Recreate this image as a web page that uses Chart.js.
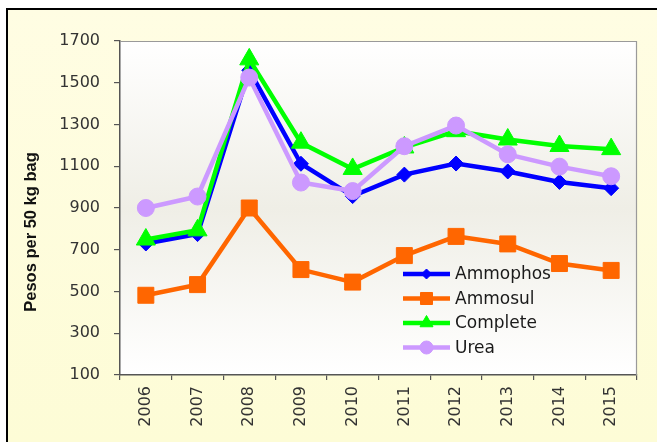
<!DOCTYPE html>
<html>
<head>
<meta charset="utf-8">
<script src="https://cdn.jsdelivr.net/npm/chart.js@4.4.1/dist/chart.umd.min.js"></script>
<style>
  html, body { margin: 0; padding: 0; background: #ffffff; }
  #wrap { width: 657px; height: 442px; position: relative; }
</style>
</head>
<body>
<div id="wrap"><canvas id="c"></canvas></div>
<script>
// ---- Data ----
const years = ['2006','2007','2008','2009','2010','2011','2012','2013','2014','2015'];
const ammophos = [730, 775, 1560, 1112, 957, 1060, 1113, 1075, 1025, 995];
const ammosul  = [482, 533, 900, 605, 545, 672, 764, 728, 634, 601];
const complete = [749, 793, 1612, 1213, 1087, 1190, 1268, 1228, 1197, 1182];
const urea     = [900, 955, 1525, 1022, 981, 1196, 1295, 1157, 1098, 1052];
const seriesNames = ['Ammophos', 'Ammosul', 'Complete', 'Urea'];
const yTitle = 'Pesos per 50 kg bag';
const yMin = 100, yMax = 1700, yStep = 200;

const styles = [
  { color: '#0000ff', point: 'rectRot',  radius: 7.5, lr: 5 },
  { color: '#ff6600', point: 'rect',     radius: 11.3, lr: 8.5 },
  { color: '#00ff00', point: 'triangle', radius: 11, lr: 7.5 },
  { color: '#cc99ff', point: 'circle',   radius: 8.5, lr: 6.5 }
];
const values = [ammophos, ammosul, complete, urea];
const orders = [4, 3, 2, 1];

const datasets = values.map((v, i) => ({
  label: seriesNames[i],
  data: v,
  borderColor: styles[i].color,
  backgroundColor: styles[i].color,
  borderWidth: 4.5,
  pointStyle: styles[i].point,
  pointRadius: styles[i].radius,
  pointHoverRadius: styles[i].radius,
  pointBorderWidth: 1,
  pointBackgroundColor: styles[i].color,
  pointBorderColor: styles[i].color,
  tension: 0,
  order: orders[i]
}));

const decor = {
  id: 'decor',
  beforeDraw(chart) {
    const ctx = chart.ctx;
    const W = chart.width, H = chart.height;
    ctx.save();
    ctx.fillStyle = '#ffffff';
    ctx.fillRect(0, 0, W, H);
    // outer light yellow panel
    const g = ctx.createLinearGradient(0, 9, 0, H);
    g.addColorStop(0, '#fffde3');
    g.addColorStop(1, '#fdfcd6');
    ctx.fillStyle = g;
    ctx.fillRect(8, 10, W - 8, H - 10);
    // frame
    ctx.strokeStyle = '#000000';
    ctx.lineWidth = 2;
    ctx.beginPath();
    ctx.moveTo(W + 2, 9);
    ctx.lineTo(7, 9);
    ctx.lineTo(7, H + 2);
    ctx.stroke();
    // plot area gradient
    const a = chart.chartArea;
    const pg = ctx.createLinearGradient(0, a.top, 0, a.bottom);
    pg.addColorStop(0, '#ffffff');
    pg.addColorStop(0.5, '#efeee6');
    pg.addColorStop(1, '#ffffff');
    ctx.fillStyle = pg;
    ctx.fillRect(a.left, a.top, a.right - a.left, a.bottom - a.top);
    // y title
    ctx.translate(31, 232);
    ctx.rotate(-Math.PI / 2);
    ctx.fillStyle = '#111111';
    ctx.font = 'bold 16.5px "Liberation Sans", Arial, sans-serif';
    ctx.textAlign = 'center';
    ctx.textBaseline = 'middle';
    ctx.fillText(yTitle, 0, 0);
    ctx.restore();
  },
  afterDraw(chart) {
    const ctx = chart.ctx;
    const a = chart.chartArea;
    ctx.save();
    // plot border top/right
    ctx.strokeStyle = '#9a9a9a';
    ctx.lineWidth = 1.2;
    ctx.beginPath();
    ctx.moveTo(a.left, a.top + 0.5);
    ctx.lineTo(a.right - 0.5, a.top + 0.5);
    ctx.lineTo(a.right - 0.5, a.bottom);
    ctx.stroke();
    // legend
    const lx0 = 403, lx1 = 450, tx = 455;
    const ys = [274, 298.5, 323, 347.5];
    ctx.font = '17px "DejaVu Sans", sans-serif';
    ctx.textBaseline = 'middle';
    ctx.textAlign = 'left';
    chart.data.datasets.forEach((ds, i) => {
      const y = ys[i];
      ctx.strokeStyle = ds.borderColor;
      ctx.lineWidth = 4.5;
      ctx.beginPath();
      ctx.moveTo(lx0, y);
      ctx.lineTo(lx1, y);
      ctx.stroke();
      ctx.fillStyle = ds.borderColor;
      ctx.strokeStyle = ds.borderColor;
      ctx.lineWidth = 1;
      Chart.helpers.drawPoint(ctx, { pointStyle: ds.pointStyle, radius: styles[i].lr, borderWidth: 1, rotation: 0 }, (lx0 + lx1) / 2, y);
      ctx.fillStyle = '#1a1a1a';
      ctx.fillText(ds.label, tx, y + 1);
    });
    ctx.restore();
  }
};

new Chart(document.getElementById('c'), {
  type: 'line',
  data: { labels: years, datasets },
  options: {
    responsive: true,
    maintainAspectRatio: false,
    devicePixelRatio: 1,
    animation: false,
    layout: { padding: { top: 41, right: 20, left: 0, bottom: 0 } },
    plugins: { legend: { display: false }, tooltip: { enabled: false } },
    scales: {
      x: {
        offset: true,
        afterFit(s) { s.height = 67; },
        border: { display: true, color: '#555555', width: 1.5 },
        grid: { offset: true, drawOnChartArea: false, drawTicks: true, tickLength: 5, color: '#555555', lineWidth: 1.2 },
        ticks: {
          minRotation: 90, maxRotation: 90, padding: 6,
          color: '#333333',
          font: { family: '"DejaVu Sans", sans-serif', size: 16 }
        }
      },
      y: {
        min: yMin, max: yMax,
        afterFit(s) { s.width = 120; },
        border: { display: true, color: '#555555', width: 1.5 },
        grid: { drawOnChartArea: false, drawTicks: true, tickLength: 6, color: '#555555', lineWidth: 1.2 },
        ticks: {
          stepSize: yStep, padding: 14,
          callback: (v) => String(v),
          color: '#333333',
          font: { family: '"DejaVu Sans", sans-serif', size: 16 }
        }
      }
    }
  },
  plugins: [decor]
});
</script>
</body>
</html>
